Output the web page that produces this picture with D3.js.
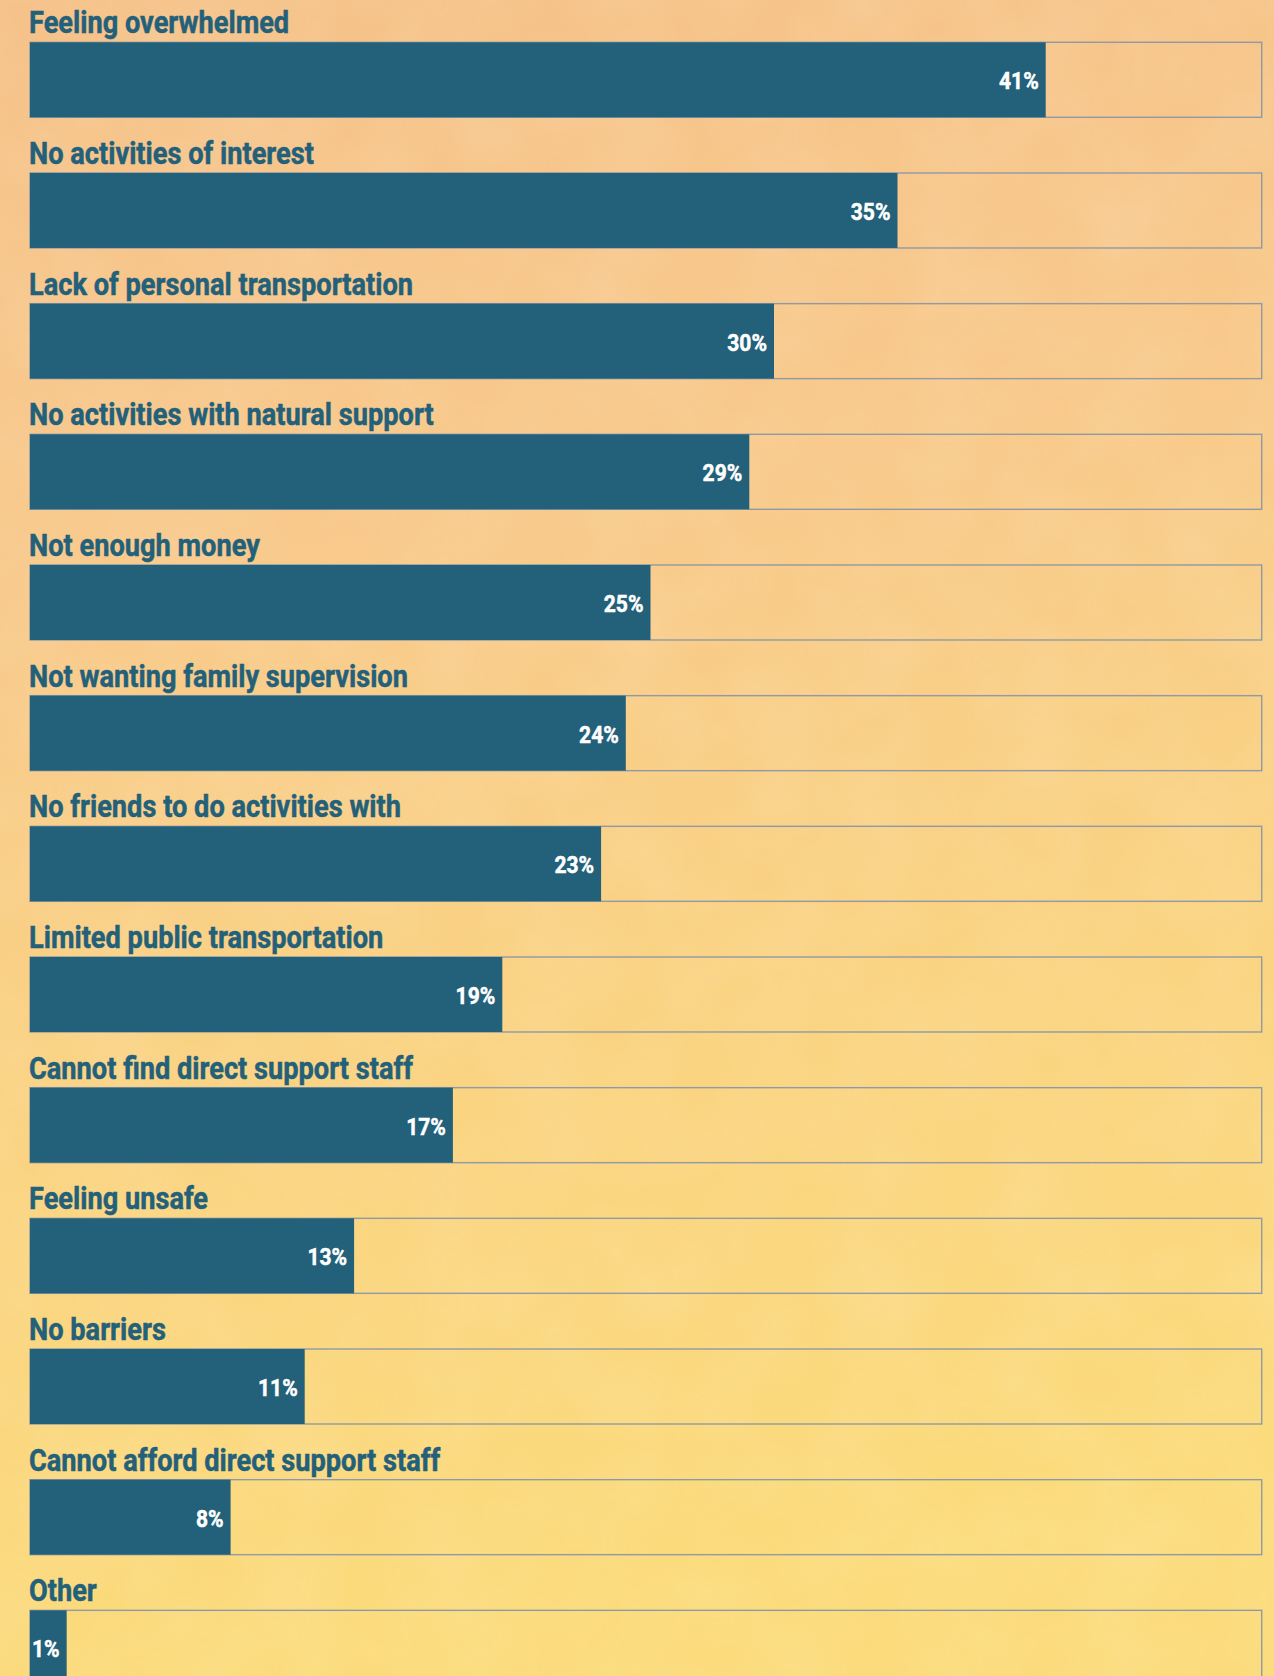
<!DOCTYPE html>
<html>
<head>
<meta charset="utf-8">
<script src="https://cdn.jsdelivr.net/npm/d3@7"></script>
<style>
  html, body { margin: 0; padding: 0; }
  body { width: 1274px; height: 1676px; overflow: hidden; }
  svg { display: block; }
</style>
</head>
<body>
<svg id="chart" width="1274" height="1676"></svg>
<script>
const categories = [
  "Feeling overwhelmed",
  "No activities of interest",
  "Lack of personal transportation",
  "No activities with natural support",
  "Not enough money",
  "Not wanting family supervision",
  "No friends to do activities with",
  "Limited public transportation",
  "Cannot find direct support staff",
  "Feeling unsafe",
  "No barriers",
  "Cannot afford direct support staff",
  "Other"
];
const values = [41, 35, 30, 29, 25, 24, 23, 19, 17, 13, 11, 8, 1];
const maxValue = 50;

const svg = d3.select("#chart"),
    width = +svg.attr("width"),
    height = +svg.attr("height");

const teal = "#23607a";
const fontFam = "Roboto, 'Noto Sans', sans-serif";
const squeezeLabel = 0.85; // fake a condensed face
const squeezeVal = 0.86;

// background paper
const defs = svg.append("defs");
const bg = defs.append("linearGradient").attr("id", "bg")
    .attr("x1", 0).attr("y1", 0).attr("x2", 0.15).attr("y2", 1);
bg.append("stop").attr("offset", "0%").attr("stop-color", "#f5c28a");
bg.append("stop").attr("offset", "35%").attr("stop-color", "#f8c98b");
bg.append("stop").attr("offset", "70%").attr("stop-color", "#fad481");
bg.append("stop").attr("offset", "100%").attr("stop-color", "#fbdb7b");

const noise = defs.append("filter").attr("id", "paper")
    .attr("x", 0).attr("y", 0).attr("width", "100%").attr("height", "100%");
noise.append("feTurbulence").attr("type", "fractalNoise")
    .attr("baseFrequency", "0.012").attr("numOctaves", 3).attr("seed", 4);
noise.append("feColorMatrix").attr("type", "matrix")
    .attr("values", "0 0 0 0 1  0 0 0 0 0.95  0 0 0 0 0.8  0 0 0 0.35 -0.1");

svg.append("rect").attr("width", width).attr("height", height).attr("fill", "url(#bg)");
svg.append("rect").attr("width", width).attr("height", height)
    .attr("filter", "url(#paper)").attr("opacity", 0.55);

// frame spans 30..1261.7, bars start a hair further out than the frame origin
const frameLeft = 30, frameWidth = 1231.7;
const x = d3.scaleLinear().domain([0, maxValue]).range([33, 1268]);

const y = d3.scaleBand()
    .domain(categories)
    .range([42.3, 42.3 + 12 * 130.67 + 75])
    .paddingInner((130.67 - 75) / 130.67)
    .paddingOuter(0);

const rows = svg.selectAll(".row")
    .data(categories.map((c, i) => ({ name: c, value: values[i] })))
    .enter().append("g")
    .attr("class", "row")
    .attr("transform", d => "translate(0," + y(d.name) + ")");

// category label
rows.append("text")
    .attr("transform", "translate(" + (frameLeft - 1) + ",-9) scale(" + squeezeLabel + ",1)")
    .attr("fill", teal)
    .attr("stroke", teal)
    .attr("stroke-width", 0.5)
    .attr("font-family", fontFam)
    .attr("font-weight", "bold")
    .attr("font-size", 32)
    .text(d => d.name);

// outline track
rows.append("rect")
    .attr("x", frameLeft)
    .attr("y", 0)
    .attr("width", frameWidth)
    .attr("height", y.bandwidth())
    .attr("fill", "none")
    .attr("stroke", "#8f9aa6")
    .attr("stroke-width", 1.4);

const bars = rows.append("rect")
    .attr("x", frameLeft)
    .attr("y", 0)
    .attr("height", y.bandwidth())
    .attr("fill", teal);

const vals = rows.append("text")
    .attr("text-anchor", "end")
    .attr("fill", "#fff")
    .attr("stroke", "#fff")
    .attr("stroke-width", 0.5)
    .attr("font-family", fontFam)
    .attr("font-weight", "bold")
    .attr("font-size", 24.5)
    .text(d => d.value + "%");

// bars grow to at least fit their label
vals.each(function(d) {
  d.tw = this.getComputedTextLength() * squeezeVal;
  d.bw = Math.max(x(d.value) - frameLeft, d.tw + 9);
});
bars.attr("width", d => d.bw);
vals.attr("transform", d => "translate(" + (frameLeft + d.bw - 7) + ",47) scale(" + squeezeVal + ",1)");
</script>
</body>
</html>
